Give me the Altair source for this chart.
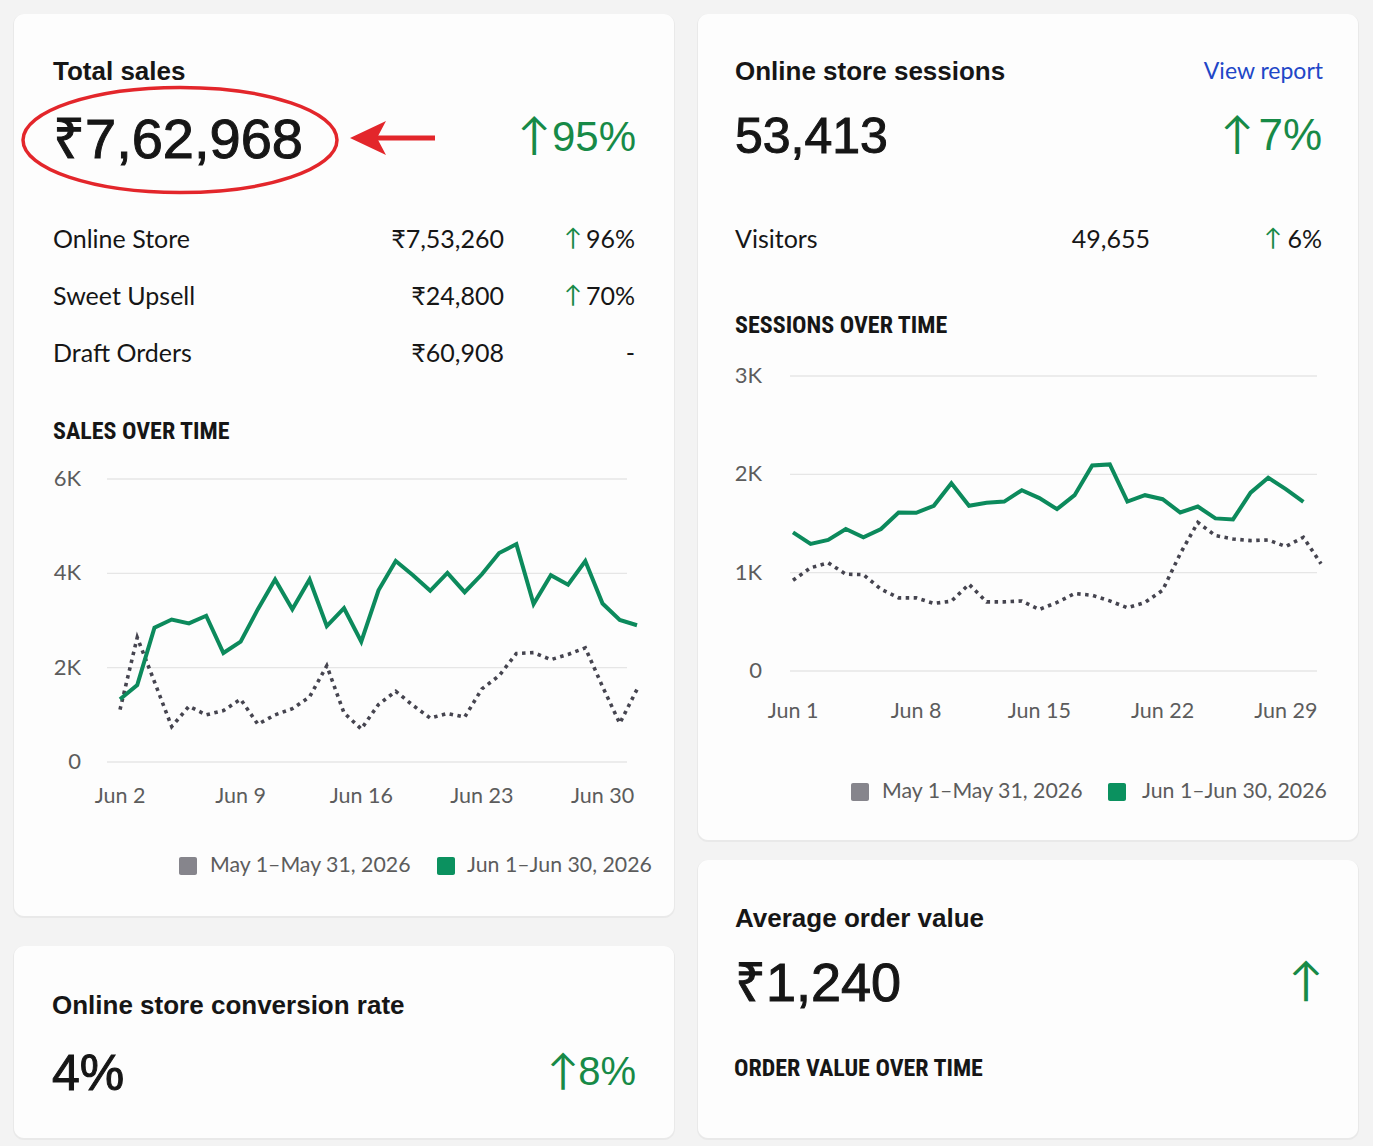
import altair as alt
import pandas as pd

W, H = 1373, 1146

# ---- KPI text -------------------------------------------------------------
total_sales = "₹7,62,968"
total_sales_change = "95%"
channels = ["Online Store", "Sweet Upsell", "Draft Orders"]
channel_amounts = ["₹7,53,260", "₹24,800", "₹60,908"]
channel_changes = ["96%", "70%", "-"]
channel_up = [True, True, False]

sessions_total = "53,413"
sessions_change = "7%"
visitors = "49,655"
visitors_change = "6%"

conversion_rate = "4%"
conversion_change = "8%"
avg_order_value = "₹1,240"

legend_labels = ["May 1–May 31, 2026", "Jun 1–Jun 30, 2026"]

# ---- Sales over time (daily, ₹) -------------------------------------------
sales_jun = [1330, 1630, 2850, 3020, 2940, 3100, 2310, 2550, 3240, 3870,
             3240, 3870, 2880, 3260, 2550, 3640, 4260, 3960, 3630, 4010,
             3600, 3980, 4430, 4620, 3350, 3960, 3760, 4260, 3360, 3010, 2900]
sales_may = [1110, 2640, 1700, 750, 1180, 1000, 1090, 1330, 800, 1000,
             1130, 1380, 2040, 1040, 700, 1220, 1500, 1200, 930, 1030,
             950, 1550, 1830, 2300, 2320, 2170, 2280, 2420, 1600, 820, 1540]
sales_x_ticks = [0, 7, 14, 21, 28]
sales_x_labels = ["Jun 2", "Jun 9", "Jun 16", "Jun 23", "Jun 30"]
sales_y_ticks = [0, 2000, 4000, 6000]
sales_y_labels = ["0", "2K", "4K", "6K"]

# ---- Sessions over time ---------------------------------------------------
sessions_jun = [1410, 1293, 1333, 1444, 1360, 1444, 1612, 1609, 1680, 1909,
                1680, 1710, 1723, 1838, 1758, 1646, 1788, 2091, 2101, 1723,
                1788, 1747, 1612, 1673, 1552, 1541, 1814, 1966, 1850, 1720]
sessions_may = [922, 1050, 1100, 985, 980, 831, 744, 744, 687, 710,
                882, 703, 703, 712, 626, 697, 788, 770, 713, 643,
                697, 821, 1192, 1511, 1377, 1343, 1326, 1333, 1266, 1360, 1091]
sess_x_ticks = [0, 7, 14, 21, 28]
sess_x_labels = ["Jun 1", "Jun 8", "Jun 15", "Jun 22", "Jun 29"]
sess_y_ticks = [0, 1000, 2000, 3000]
sess_y_labels = ["0", "1K", "2K", "3K"]

# ---- styling --------------------------------------------------------------
HEAD = "Liberation Sans"
BODY = "Lato"
CAPS = "'Roboto Condensed', Lato, sans-serif"
INK = "#161616"
AXIS_INK = "#5c5c5c"
UP = "#178a47"
LINE_GREEN = "#0c8a5c"
LINE_GRAY = "#45444f"
SWATCH_GRAY = "#86858c"
SWATCH_GREEN = "#0b915f"
GRID = "#e6e6e6"
RED = "#e3262b"

one = pd.DataFrame({"k": [0]})


def text(t, x, y, size, color=INK, weight="normal", align="left", font=BODY,
         heavy=0.0):
    props = dict(align=align, baseline="middle", fontSize=size,
                 fontWeight=weight, color=color, font=font)
    if heavy:
        props.update(stroke=color, strokeWidth=heavy)
    return alt.Chart(pd.DataFrame({"t": [t]})).mark_text(**props).encode(
        x=alt.value(x), y=alt.value(y), text="t:N")


def card(x0, y0, x1, y1):
    shadow = alt.Chart(one).mark_rect(cornerRadius=11, color="#e9e9e9").encode(
        x=alt.value(x0 - 1), x2=alt.value(x1 + 1), y=alt.value(y0), y2=alt.value(y1 + 2))
    face = alt.Chart(one).mark_rect(cornerRadius=10, color="#fdfdfd").encode(
        x=alt.value(x0), x2=alt.value(x1), y=alt.value(y0), y2=alt.value(y1))
    return [shadow, face]


def swatch(x, y, color):
    return alt.Chart(one).mark_rect(cornerRadius=2, color=color).encode(
        x=alt.value(x - 9), x2=alt.value(x + 9), y=alt.value(y - 9), y2=alt.value(y + 9)
    )


def up_change(value, right_x, y, size, arrow_x, arrow_size):
    """Green arrow followed by a right-aligned percentage."""
    return [
        text("↑", arrow_x, y - 1, arrow_size, color=UP, align="center", font=BODY),
        text(value, right_x, y, size, color=UP, align="right", font=HEAD),
    ]


def trend(jun, may, x_ticks, x_labels, y_ticks, y_labels,
          x_range, y_dom, y_range, grid_x, ylab_x, xlab_y):
    n = max(len(jun), len(may))
    xs = alt.Scale(domain=[0, n - 1], range=x_range, nice=False, zero=False)
    ys = alt.Scale(domain=y_dom, range=y_range, nice=False, zero=False)
    df_jun = pd.DataFrame({"i": list(range(len(jun))), "v": jun})
    df_may = pd.DataFrame({"i": list(range(len(may))), "v": may})

    grid = alt.Chart(pd.DataFrame({"v": y_ticks})).mark_rule(
        color=GRID, strokeWidth=1.3
    ).encode(y=alt.Y("v:Q", scale=ys, axis=None),
             x=alt.value(grid_x[0]), x2=alt.value(grid_x[1]))
    ylab = alt.Chart(pd.DataFrame({"v": y_ticks, "t": y_labels})).mark_text(
        align="right", baseline="middle", fontSize=22, color=AXIS_INK, font=BODY
    ).encode(y=alt.Y("v:Q", scale=ys, axis=None), x=alt.value(ylab_x), text="t:N")
    xlab = alt.Chart(pd.DataFrame({"i": x_ticks, "t": x_labels})).mark_text(
        align="center", baseline="middle", fontSize=21.5, color=AXIS_INK, font=BODY
    ).encode(x=alt.X("i:Q", scale=xs, axis=None), y=alt.value(xlab_y), text="t:N")
    may_line = alt.Chart(df_may).mark_line(
        color=LINE_GRAY, strokeWidth=3.6, strokeDash=[3.5, 4.5], strokeCap="butt"
    ).encode(x=alt.X("i:Q", scale=xs, axis=None), y=alt.Y("v:Q", scale=ys, axis=None))
    jun_line = alt.Chart(df_jun).mark_line(
        color=LINE_GREEN, strokeWidth=4, strokeJoin="miter"
    ).encode(x=alt.X("i:Q", scale=xs, axis=None), y=alt.Y("v:Q", scale=ys, axis=None))
    return alt.layer(grid, ylab, xlab, may_line, jun_line)


# ---- cards ----------------------------------------------------------------
layers = []
for box in [(14, 14, 674, 916), (698, 14, 1358, 840),
            (14, 946, 674, 1138), (698, 860, 1358, 1138)]:
    layers += card(*box)

# ---- Total sales card -----------------------------------------------------
ELLIPSE = ("M -1 0 C -1 -0.185 -0.552 -0.335 0 -0.335 C 0.552 -0.335 1 -0.185 1 0 "
           "C 1 0.185 0.552 0.335 0 0.335 C -0.552 0.335 -1 0.185 -1 0 Z")
ARROW_HEAD = "M -1 0 L 1 -0.95 L 0.5 0 L 1 0.95 Z"

layers += [
    text("Total sales", 53, 72, 26, weight="bold", font=HEAD),
    text(total_sales, 53, 141, 56, font=HEAD, heavy=1.0),
    *up_change(total_sales_change, 636, 138, 42, 534, 44),
    alt.Chart(one).mark_point(shape=ELLIPSE, size=314 ** 2, filled=False,
                              color=RED, strokeWidth=3.5, opacity=1).encode(
        x=alt.value(180), y=alt.value(140)),
    alt.Chart(one).mark_rule(color=RED, strokeWidth=5).encode(
        x=alt.value(372), x2=alt.value(435), y=alt.value(138)),
    alt.Chart(one).mark_point(shape=ARROW_HEAD, size=36 ** 2, filled=True,
                              color=RED, opacity=1).encode(
        x=alt.value(368), y=alt.value(138)),
]
for r, (name, amt, chg, up) in enumerate(zip(channels, channel_amounts,
                                              channel_changes, channel_up)):
    y = 240 + 57 * r
    layers.append(text(name, 53, y, 25))
    layers.append(text(amt, 504, y, 25, align="right"))
    if up:
        layers.append(text("↑", 573, y - 1, 24, color=UP, align="center"))
    layers.append(text(chg, 635, y, 25, align="right"))

layers += [
    text("SALES OVER TIME", 53, 432, 24, weight="bold", font=CAPS),
    swatch(188, 866, SWATCH_GRAY),
    text(legend_labels[0], 210, 866, 21.3, color=AXIS_INK),
    swatch(446, 866, SWATCH_GREEN),
    text(legend_labels[1], 467, 866, 21.3, color=AXIS_INK),
]

# ---- Sessions card --------------------------------------------------------
layers += [
    text("Online store sessions", 735, 72, 26, weight="bold", font=HEAD),
    text("View report", 1323, 72, 23, color="#2146c7", align="right"),
    text(sessions_total, 735, 138, 50, font=HEAD, heavy=1.0),
    *up_change(sessions_change, 1322, 137, 44, 1237, 44),
    text("Visitors", 735, 240, 25),
    text(visitors, 1150, 240, 25, align="right"),
    text("↑", 1273, 239, 24, color=UP, align="center"),
    text(visitors_change, 1322, 240, 25, align="right"),
    text("SESSIONS OVER TIME", 735, 326, 24, weight="bold", font=CAPS),
    swatch(860, 792, SWATCH_GRAY),
    text(legend_labels[0], 882, 792, 21.3, color=AXIS_INK),
    swatch(1117, 792, SWATCH_GREEN),
    text(legend_labels[1], 1142, 792, 21.3, color=AXIS_INK),
]

# ---- Conversion card ------------------------------------------------------
layers += [
    text("Online store conversion rate", 52, 1006, 26, weight="bold", font=HEAD),
    text(conversion_rate, 52, 1075, 50, font=HEAD, heavy=1.0),
    *up_change(conversion_change, 636, 1073, 40, 563, 42),
]

# ---- Average order value card ---------------------------------------------
layers += [
    text("Average order value", 735, 919, 26, weight="bold", font=HEAD),
    text(avg_order_value, 735, 985, 54, font=HEAD, heavy=1.0),
    text("↑", 1306, 982, 46, color=UP, align="center", font=BODY),
    text("ORDER VALUE OVER TIME", 734, 1069, 24, weight="bold", font=CAPS),
]

sales_chart = trend(sales_jun, sales_may, sales_x_ticks, sales_x_labels,
                    sales_y_ticks, sales_y_labels,
                    x_range=[120, 637], y_dom=[0, 6000], y_range=[762, 479],
                    grid_x=(107, 627), ylab_x=81, xlab_y=797)
sessions_chart = trend(sessions_jun, sessions_may, sess_x_ticks, sess_x_labels,
                       sess_y_ticks, sess_y_labels,
                       x_range=[793, 1321], y_dom=[0, 3000], y_range=[671, 376],
                       grid_x=(790, 1317), ylab_x=762, xlab_y=712)

chart = alt.layer(*layers, sales_chart, sessions_chart).resolve_scale(
    x="independent", y="independent"
).properties(
    width=W, height=H, padding=0, background="#f3f3f3",
    autosize=alt.AutoSizeParams(type="none")
).configure_view(stroke=None)

chart.save("out.html", embed_options={"renderer": "svg", "actions": False})
